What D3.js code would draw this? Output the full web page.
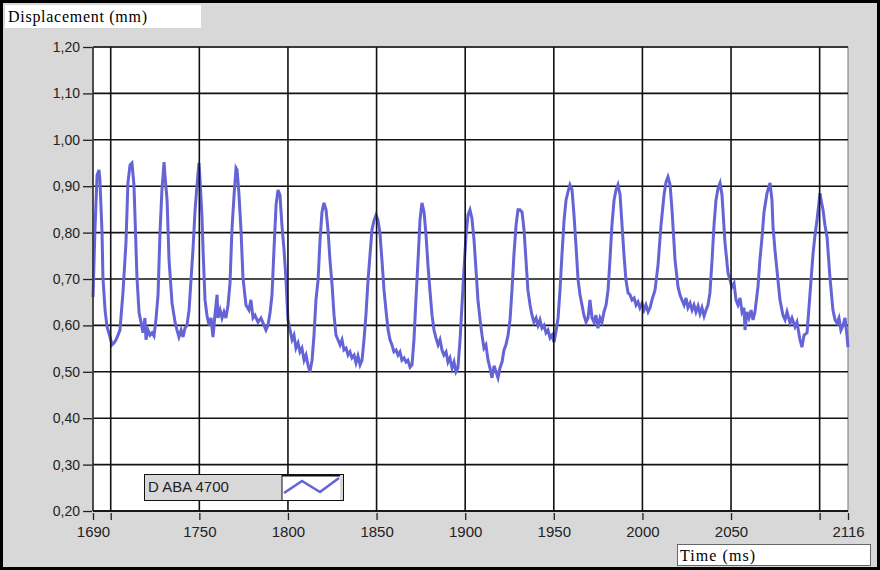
<!DOCTYPE html>
<html lang="en">
<head>
<meta charset="UTF-8">
<title>Displacement vs Time</title>
<script src="https://d3js.org/d3.v7.min.js"></script>
<style>
  body { margin: 0; background: #fff; }
  svg { display: block; }
</style>
</head>
<body>
<div id="chart"></div>
<script>
// trace: time (ms) and displacement (mm), one row per cycle
const timeMs = [
  1690.0, 1691.1, 1692.3, 1693.4, 1693.9, 1695.1, 1695.6, 1696.8, 1697.9, 1699.6, 1700.7, 1701.8, 1703.0, 1704.1, 1705.2, 1706.9, 1708.6, 1709.7, 1710.9, 1712.0, 1713.1, 1713.7, 1714.8,
  1716.0, 1717.1, 1718.2, 1719.3, 1719.9, 1721.0, 1722.2, 1723.3, 1724.4, 1725.5, 1726.7, 1727.8, 1728.9, 1730.1, 1730.6, 1731.8, 1732.9, 1734.6,
  1736.3, 1737.4, 1738.5, 1739.7, 1740.8, 1741.9, 1743.0, 1744.2, 1745.3, 1746.4, 1747.6, 1748.7, 1749.8, 1750.4, 1751.5, 1752.1,
  1753.2, 1754.3, 1755.5, 1756.6, 1757.7, 1758.8, 1760.0, 1760.5, 1761.7, 1762.8, 1763.9, 1765.0, 1766.2, 1767.3, 1768.4, 1769.6, 1770.7, 1771.3, 1772.4, 1773.5, 1774.6,
  1776.3, 1778.0, 1779.1, 1780.3, 1781.4, 1783.1, 1784.8, 1786.5, 1787.6, 1788.7, 1789.9, 1791.0, 1792.1, 1793.3, 1794.4, 1795.5, 1796.6, 1797.8, 1798.9, 1800.0,
  1801.2, 1802.3, 1803.4, 1804.5, 1805.7, 1806.8, 1807.9, 1809.1, 1810.2, 1811.3, 1812.4, 1813.6, 1814.7, 1815.8, 1817.0, 1818.1, 1819.2, 1820.3, 1821.5, 1822.6, 1823.7, 1824.9, 1826.0,
  1827.1, 1828.2, 1829.4, 1830.5, 1831.6, 1832.8, 1833.9, 1835.0, 1836.1, 1837.3, 1838.4, 1839.5, 1840.7, 1841.8, 1842.9, 1844.0, 1845.2, 1846.3, 1847.4, 1848.6, 1849.7, 1850.8, 1851.9, 1853.1, 1854.2, 1855.3,
  1856.5, 1857.6, 1858.7, 1859.8, 1861.0, 1862.1, 1863.2, 1864.3, 1865.5, 1866.6, 1867.7, 1868.9, 1870.0, 1871.1, 1872.2, 1873.4, 1874.5, 1875.6, 1876.8, 1877.9, 1879.0, 1880.1, 1881.3,
  1882.4, 1883.5, 1884.7, 1885.8, 1886.9, 1888.0, 1889.2, 1890.3, 1891.4, 1892.6, 1893.7, 1894.8, 1895.9, 1897.1, 1898.2, 1899.3, 1900.5, 1901.6, 1902.7, 1903.8, 1905.0, 1906.1, 1907.2, 1908.4, 1909.5,
  1910.6, 1911.7, 1912.9, 1914.0, 1915.1, 1916.3, 1917.4, 1918.5, 1919.6, 1920.8, 1921.9, 1923.0, 1924.2, 1925.3, 1926.4, 1927.5, 1928.7, 1929.8, 1930.9, 1932.1, 1933.2, 1934.3, 1935.4,
  1936.6, 1937.7, 1938.8, 1940.0, 1941.1, 1942.2, 1943.3, 1944.5, 1945.6, 1946.7, 1947.9, 1949.0, 1950.1, 1951.2, 1952.4, 1953.5, 1954.6, 1955.8, 1956.9, 1958.0, 1959.1, 1960.3, 1961.4, 1962.5, 1963.7,
  1964.8, 1965.9, 1967.0, 1968.2, 1969.3, 1970.4, 1971.6, 1972.7, 1973.8, 1974.9, 1976.1, 1977.2, 1978.3, 1979.5, 1980.6, 1981.7, 1982.8, 1984.0, 1985.1, 1986.2, 1987.4, 1988.5, 1989.6, 1990.7, 1991.9,
  1993.0, 1994.1, 1995.3, 1996.4, 1997.5, 1998.6, 1999.8, 2000.9, 2002.0, 2003.2, 2004.3, 2005.4, 2007.1, 2008.8, 2010.5, 2012.2, 2013.3, 2014.4, 2015.6, 2016.7, 2018.4, 2020.1,
  2021.2, 2022.3, 2023.5, 2024.6, 2025.7, 2026.9, 2028.0, 2029.1, 2030.2, 2031.4, 2032.5, 2033.6, 2034.8, 2035.9, 2037.0, 2038.1, 2039.3, 2040.4, 2041.5, 2042.7, 2043.8, 2044.9, 2046.6, 2048.3,
  2049.4, 2050.5, 2051.7, 2052.8, 2053.9, 2055.1, 2056.2, 2057.3, 2057.9, 2059.0, 2060.1, 2061.3, 2062.4, 2063.5, 2065.2, 2066.3, 2067.5, 2068.6, 2070.3, 2072.0, 2073.1, 2073.7, 2074.8, 2075.9, 2077.6,
  2079.3, 2080.5, 2081.6, 2083.3, 2084.4, 2086.1, 2087.2, 2088.9, 2090.0, 2091.2, 2092.9, 2094.6, 2096.3, 2097.4, 2098.5, 2100.2, 2100.8, 2101.9, 2103.0, 2104.2, 2105.8,
  2107.5, 2108.7, 2109.8, 2110.9, 2112.0, 2113.2, 2114.3, 2115.4, 2116.0
];
const dispMm = [
  0.661, 0.806, 0.924, 0.935, 0.913, 0.800, 0.704, 0.633, 0.597, 0.575, 0.558, 0.562, 0.569, 0.579, 0.590, 0.670, 0.778, 0.907, 0.946, 0.950, 0.903, 0.834, 0.704,
  0.627, 0.607, 0.584, 0.616, 0.569, 0.590, 0.579, 0.584, 0.577, 0.612, 0.666, 0.800, 0.892, 0.952, 0.924, 0.870, 0.741, 0.648,
  0.607, 0.590, 0.575, 0.590, 0.575, 0.594, 0.600, 0.633, 0.698, 0.763, 0.849, 0.903, 0.950, 0.913, 0.834, 0.762,
  0.655, 0.622, 0.600, 0.616, 0.575, 0.622, 0.666, 0.616, 0.633, 0.616, 0.629, 0.616, 0.644, 0.691, 0.806, 0.881, 0.939, 0.935, 0.881, 0.806, 0.704,
  0.644, 0.633, 0.655, 0.616, 0.622, 0.607, 0.616, 0.600, 0.590, 0.600, 0.627, 0.666, 0.762, 0.860, 0.892, 0.881, 0.816, 0.762, 0.698, 0.612,
  0.590, 0.569, 0.579, 0.551, 0.562, 0.543, 0.551, 0.525, 0.536, 0.515, 0.500, 0.525, 0.579, 0.655, 0.698, 0.784, 0.844, 0.864, 0.849, 0.806, 0.741, 0.687, 0.622,
  0.579, 0.569, 0.558, 0.569, 0.547, 0.551, 0.536, 0.543, 0.530, 0.536, 0.519, 0.534, 0.515, 0.525, 0.569, 0.622, 0.698, 0.752, 0.806, 0.827, 0.838, 0.827, 0.800, 0.737, 0.676, 0.633,
  0.590, 0.569, 0.558, 0.543, 0.547, 0.536, 0.543, 0.525, 0.530, 0.521, 0.525, 0.510, 0.515, 0.569, 0.655, 0.741, 0.827, 0.864, 0.844, 0.795, 0.730, 0.676, 0.622,
  0.590, 0.573, 0.558, 0.569, 0.547, 0.536, 0.543, 0.521, 0.530, 0.508, 0.521, 0.500, 0.508, 0.569, 0.644, 0.720, 0.795, 0.838, 0.849, 0.831, 0.784, 0.720, 0.655, 0.612, 0.579,
  0.551, 0.558, 0.525, 0.508, 0.487, 0.513, 0.500, 0.487, 0.508, 0.521, 0.547, 0.558, 0.579, 0.612, 0.676, 0.752, 0.816, 0.849, 0.849, 0.844, 0.806, 0.741, 0.676,
  0.644, 0.622, 0.607, 0.616, 0.600, 0.612, 0.594, 0.600, 0.584, 0.590, 0.573, 0.579, 0.564, 0.586, 0.616, 0.676, 0.752, 0.827, 0.870, 0.888, 0.903, 0.892, 0.838, 0.773, 0.698,
  0.666, 0.644, 0.622, 0.607, 0.616, 0.655, 0.616, 0.607, 0.622, 0.594, 0.616, 0.607, 0.629, 0.644, 0.676, 0.741, 0.816, 0.870, 0.892, 0.903, 0.881, 0.816, 0.752, 0.698, 0.670,
  0.666, 0.655, 0.659, 0.644, 0.651, 0.638, 0.648, 0.633, 0.644, 0.629, 0.638, 0.655, 0.676, 0.730, 0.816, 0.881, 0.909, 0.920, 0.903, 0.849, 0.741, 0.683,
  0.666, 0.655, 0.644, 0.659, 0.638, 0.648, 0.633, 0.644, 0.629, 0.642, 0.625, 0.638, 0.620, 0.633, 0.644, 0.670, 0.741, 0.816, 0.870, 0.896, 0.907, 0.881, 0.778, 0.713,
  0.698, 0.683, 0.691, 0.655, 0.644, 0.659, 0.629, 0.638, 0.590, 0.629, 0.616, 0.633, 0.612, 0.629, 0.683, 0.741, 0.790, 0.844, 0.885, 0.907, 0.870, 0.812, 0.762, 0.720, 0.655,
  0.622, 0.612, 0.629, 0.605, 0.616, 0.597, 0.607, 0.569, 0.553, 0.579, 0.584, 0.670, 0.756, 0.795, 0.827, 0.885, 0.870, 0.849, 0.816, 0.790, 0.704,
  0.633, 0.612, 0.605, 0.616, 0.590, 0.600, 0.616, 0.579, 0.553
];

const xTicks = [1690, 1700, 1750, 1800, 1850, 1900, 1950, 2000, 2050, 2100, 2116];
const xTickLabels = [1690, 1750, 1800, 1850, 1900, 1950, 2000, 2050, 2116];
const xGrid = [1700, 1750, 1800, 1850, 1900, 1950, 2000, 2050, 2100];
const yTicks = [0.2, 0.3, 0.4, 0.5, 0.6, 0.7, 0.8, 0.9, 1.0, 1.1, 1.2];
const seriesName = "D ABA 4700";
const yTitle = "Displacement (mm)";
const xTitle = "Time (ms)";

const width = 880, height = 570;
const plot = { left: 93, right: 848, top: 47, bottom: 511 };
const lineColor = "#6464d6";

const svg = d3.select("#chart").append("svg")
    .attr("width", width)
    .attr("height", height);

// grey panel with black frame
svg.append("rect")
    .attr("x", 1.5).attr("y", 1.5)
    .attr("width", width - 3).attr("height", height - 3)
    .attr("fill", "#d8d8d8")
    .attr("stroke", "#000")
    .attr("stroke-width", 3);

const x = d3.scaleLinear().domain([1690, 2116]).range([plot.left, plot.right]);
const y = d3.scaleLinear().domain([0.2, 1.2]).range([plot.bottom, plot.top]);

// plot background
svg.append("rect")
    .attr("x", plot.left).attr("y", plot.top)
    .attr("width", plot.right - plot.left)
    .attr("height", plot.bottom - plot.top)
    .attr("fill", "#fff")
    .attr("stroke", "#777")
    .attr("stroke-width", 1);

// horizontal grid (under the trace)
svg.append("g")
    .selectAll("line")
    .data(yTicks)
    .enter().append("line")
    .attr("x1", plot.left).attr("x2", plot.right)
    .attr("y1", d => y(d)).attr("y2", d => y(d))
    .attr("stroke", "#111")
    .attr("stroke-width", 1.6);

// trace
const pts = timeMs.map((t, i) => [t, dispMm[i]]);
const line = d3.line().x(d => x(d[0])).y(d => y(d[1]));
svg.append("path")
    .datum(pts)
    .attr("d", line)
    .attr("fill", "none")
    .attr("stroke", lineColor)
    .attr("stroke-width", 3)
    .attr("stroke-linejoin", "miter");

// vertical grid (drawn over the trace like the original)
svg.append("g")
    .selectAll("line")
    .data(xGrid)
    .enter().append("line")
    .attr("x1", d => x(d)).attr("x2", d => x(d))
    .attr("y1", plot.top).attr("y2", plot.bottom)
    .attr("stroke", "#111")
    .attr("stroke-width", 1.6);

// left and bottom edges
svg.append("line")
    .attr("x1", plot.left).attr("x2", plot.left)
    .attr("y1", plot.top).attr("y2", plot.bottom)
    .attr("stroke", "#333").attr("stroke-width", 1.6);
svg.append("line")
    .attr("x1", plot.left).attr("x2", plot.right)
    .attr("y1", plot.bottom).attr("y2", plot.bottom)
    .attr("stroke", "#111").attr("stroke-width", 1.6);

// axes
const commaFmt = d => d3.format(".2f")(d).replace(".", ",");

const yAxis = svg.append("g")
    .attr("transform", `translate(${plot.left - 1},0)`)
    .call(d3.axisLeft(y).tickValues(yTicks).tickSize(9).tickPadding(3).tickFormat(commaFmt));

const xAxis = svg.append("g")
    .attr("transform", `translate(0,${plot.bottom + 2})`)
    .call(d3.axisBottom(x).tickValues(xTicks).tickSize(7).tickPadding(6)
        .tickFormat(d => xTickLabels.includes(d) ? d : ""));

[yAxis, xAxis].forEach(g => {
    g.select(".domain").remove();
    g.selectAll(".tick line").attr("stroke", "#222").attr("stroke-width", 1.3);
    g.selectAll(".tick text")
        .attr("fill", "#222")
        .style("font-family", "'Liberation Sans', Arial, sans-serif");
});
yAxis.selectAll(".tick text").style("font-size", "14px");
xAxis.selectAll(".tick text").style("font-size", "15px");

// axis titles in white boxes
svg.append("rect")
    .attr("x", 5).attr("y", 5).attr("width", 196).attr("height", 23)
    .attr("fill", "#fff");
svg.append("text")
    .attr("x", 8).attr("y", 22)
    .attr("textLength", 139)
    .style("font-family", "'Liberation Serif', 'Times New Roman', serif")
    .style("font-size", "16px")
    .attr("fill", "#000")
    .text(yTitle);

svg.append("rect")
    .attr("x", 677.5).attr("y", 544.5).attr("width", 193).attr("height", 21)
    .attr("fill", "#fff")
    .attr("stroke", "#666")
    .attr("stroke-width", 1);
svg.append("text")
    .attr("x", 680).attr("y", 561)
    .attr("textLength", 75)
    .style("font-family", "'Liberation Serif', 'Times New Roman', serif")
    .style("font-size", "16px")
    .attr("fill", "#000")
    .text(xTitle);

// legend
const lg = svg.append("g").attr("transform", "translate(144,474)");
lg.append("rect")
    .attr("x", 0.5).attr("y", 0.5).attr("width", 199).attr("height", 26)
    .attr("fill", "#d8d8d8")
    .attr("stroke", "#111");
lg.append("rect")
    .attr("x", 138).attr("y", 1).attr("width", 58).attr("height", 25)
    .attr("fill", "#fff");
lg.append("line")
    .attr("x1", 138).attr("x2", 138).attr("y1", 0).attr("y2", 27)
    .attr("stroke", "#111");
lg.append("line")
    .attr("x1", 138).attr("x2", 196).attr("y1", 1.5).attr("y2", 1.5)
    .attr("stroke", "#111").attr("stroke-width", 2);
lg.append("text")
    .attr("x", 4).attr("y", 18)
    .style("font-family", "'Liberation Sans', Arial, sans-serif")
    .style("font-size", "15px")
    .attr("fill", "#222")
    .text(seriesName);
lg.append("path")
    .attr("d", "M140,19 L158,7 L176,18 L195,4")
    .attr("fill", "none")
    .attr("stroke", lineColor)
    .attr("stroke-width", 2.6);
</script>
</body>
</html>
